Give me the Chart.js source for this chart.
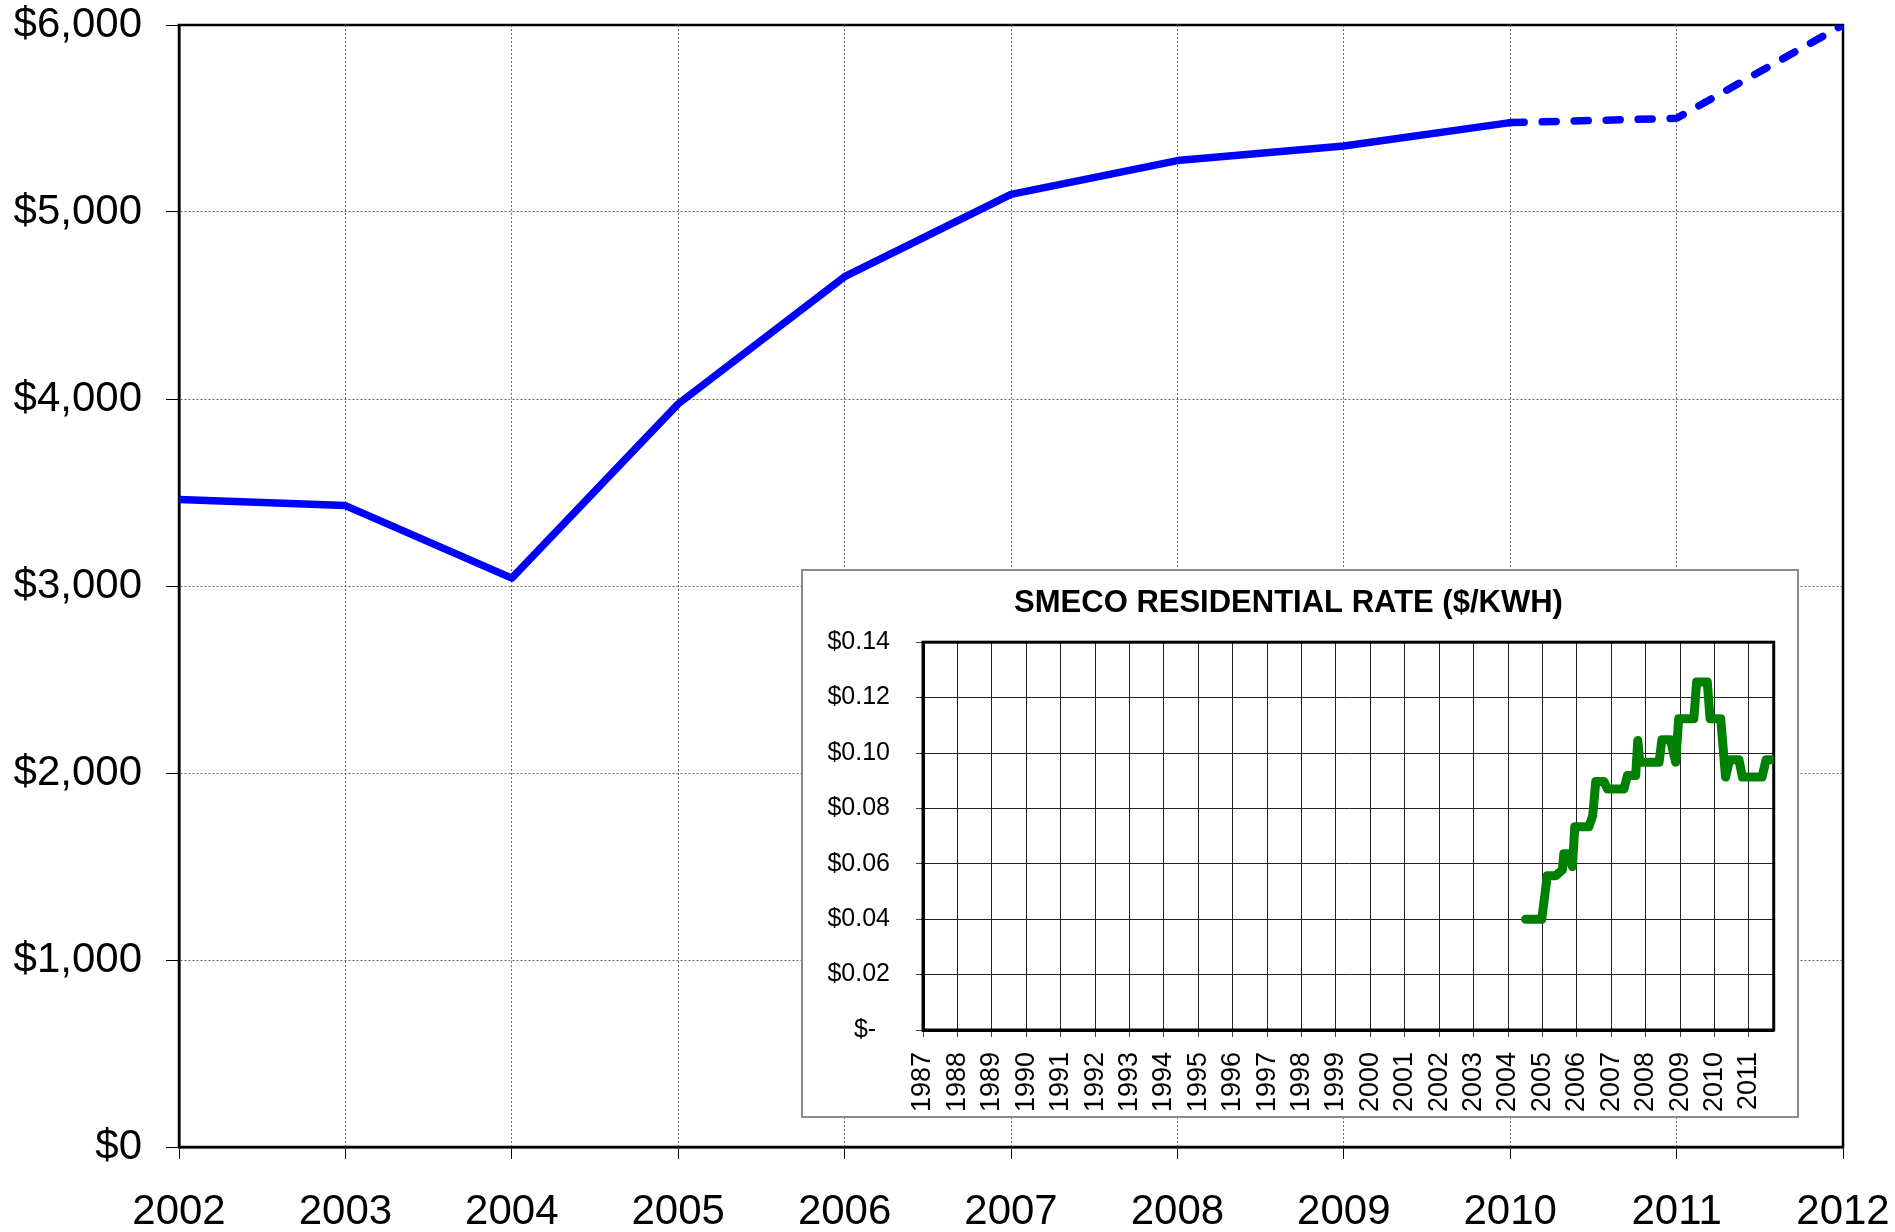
<!DOCTYPE html>
<html>
<head>
<meta charset="utf-8">
<script src="https://cdn.jsdelivr.net/npm/chart.js@4.4.0/dist/chart.umd.min.js"></script>
<style>
  html, body { margin: 0; padding: 0; background: #fff; }
  #wrap { position: relative; width: 1895px; height: 1232px; }
  #main { position: absolute; left: 0; top: 0; }
  #inset { position: absolute; left: 803px; top: 571px; width: 994px; height: 545px; background: #fff; outline: 2px solid #8a8a8a; }
</style>
</head>
<body>
<div id="wrap">
  <canvas id="main" width="1895" height="1232"></canvas>
  <div id="inset"><canvas id="insetCanvas" width="994" height="545"></canvas></div>
</div>
<script>
// main series: yearly cost, last two years projected (dashed)
const years = [2002, 2003, 2004, 2005, 2006, 2007, 2008, 2009, 2010, 2011, 2012];
const cost = [3463, 3430, 3042, 3974, 4654, 5094, 5275, 5353, 5478, 5501, 6000];
const lastActualYear = 2010;

// inset series: SMECO residential rate, read at the step changes
const rateDates = [2004.51, 2004.98, 2005.14, 2005.39, 2005.58, 2005.62, 2005.76, 2005.87, 2005.94,
  2006.35, 2006.46, 2006.55, 2006.79, 2006.89, 2007.37, 2007.47, 2007.71, 2007.77, 2007.83,
  2008.39, 2008.47, 2008.72, 2008.87, 2008.96, 2009.40, 2009.48, 2009.79, 2009.87, 2010.18,
  2010.32, 2010.44, 2010.71, 2010.81, 2011.38, 2011.50, 2011.72];
const rateValues = [0.040, 0.040, 0.0557, 0.0557, 0.0578, 0.0636, 0.0636, 0.059, 0.0734,
  0.0734, 0.0774, 0.0897, 0.0897, 0.087, 0.087, 0.0919, 0.0919, 0.1045, 0.0967,
  0.0967, 0.1048, 0.1048, 0.0967, 0.1124, 0.1124, 0.1256, 0.1256, 0.1124, 0.1124,
  0.0913, 0.0976, 0.0976, 0.0913, 0.0913, 0.0976, 0.0976];
const rateFirstYear = 1987;
const rateLastX = 2011.72;
const insetTitle = 'SMECO RESIDENTIAL RATE ($/KWH)';

Chart.defaults.font.family = "'Liberation Sans', Arial, sans-serif";
Chart.defaults.color = '#000';
Chart.defaults.animation = false;

// box around the plot area (top and right sides included)
const frame = {
  id: 'frame',
  beforeDatasetsDraw(chart, args, opts) {
    const { ctx, chartArea: a } = chart;
    ctx.save();
    ctx.strokeStyle = '#000';
    ctx.lineWidth = opts.width || 2;
    ctx.strokeRect(a.left, a.top, a.right - a.left, a.bottom - a.top);
    ctx.restore();
  }
};

new Chart(document.getElementById('main'), {
  type: 'line',
  data: {
    datasets: [{
      data: years.map((y, i) => ({ x: y, y: cost[i] })),
      borderColor: '#0000ff',
      borderWidth: 7.5,
      borderCapStyle: 'round',
      borderJoinStyle: 'round',
      pointRadius: 0,
      tension: 0,
      segment: {
        borderDash: ctx => years[ctx.p0DataIndex] >= lastActualYear ? [14, 18] : undefined
      }
    }]
  },
  options: {
    responsive: false,
    layout: { padding: { top: 25, right: 52, left: 0, bottom: 0 } },
    plugins: { legend: { display: false }, tooltip: { enabled: false }, frame: { width: 2.5 } },
    scales: {
      x: {
        type: 'linear', min: 2002, max: 2012,
        ticks: { stepSize: 1, callback: v => String(v), font: { size: 42 }, padding: 28, maxRotation: 0 },
        grid: { color: '#666', lineWidth: 1, tickLength: 12, tickColor: '#000', tickWidth: 1 },
        border: { color: '#000', width: 2.5, dash: [2, 2] },
        afterFit: s => { s.height = 85; s.paddingLeft = 0; s.paddingRight = 0; }
      },
      y: {
        min: 0, max: 6000,
        ticks: { stepSize: 1000, callback: v => '$' + v.toLocaleString('en-US'), font: { size: 42 }, padding: 24 },
        grid: { color: '#666', lineWidth: 1, tickLength: 13, tickColor: '#000', tickWidth: 1 },
        border: { color: '#000', width: 2.5, dash: [2, 2] },
        afterFit: s => { s.width = 179; s.paddingTop = 0; s.paddingBottom = 0; }
      }
    }
  },
  plugins: [frame]
});

new Chart(document.getElementById('insetCanvas'), {
  type: 'line',
  data: {
    datasets: [{
      data: rateDates.map((d, i) => ({ x: d, y: rateValues[i] })),
      borderColor: '#008000',
      borderWidth: 9,
      borderCapStyle: 'round',
      borderJoinStyle: 'round',
      pointRadius: 0,
      tension: 0
    }]
  },
  options: {
    responsive: false,
    layout: { padding: { top: 0, right: 23, left: 0, bottom: 0 } },
    plugins: {
      legend: { display: false },
      tooltip: { enabled: false },
      frame: { width: 3 },
      title: {
        display: true, text: insetTitle, color: '#000',
        font: { size: 31, weight: 'bold' },
        padding: { top: 14, bottom: 20 }
      }
    },
    scales: {
      x: {
        type: 'linear', min: rateFirstYear, max: rateLastX,
        ticks: {
          stepSize: 1, includeBounds: false, autoSkip: false,
          minRotation: 90, maxRotation: 90,
          callback: v => String(v), font: { size: 27 }, padding: 15
        },
        grid: { color: '#222', lineWidth: 1, tickLength: 7, tickColor: '#444' },
        border: { color: '#000', width: 3 },
        afterFit: s => { s.height = 86; }
      },
      y: {
        min: 0, max: 0.14,
        ticks: {
          stepSize: 0.02,
          callback: v => v === 0 ? '$-  ' : '$' + v.toFixed(2),
          font: { size: 25 }, padding: 26
        },
        grid: { color: '#222', lineWidth: 1, tickLength: 7, tickColor: '#444' },
        border: { color: '#000', width: 3 },
        afterFit: s => { s.width = 120; }
      }
    }
  },
  plugins: [frame]
});
</script>
</body>
</html>
